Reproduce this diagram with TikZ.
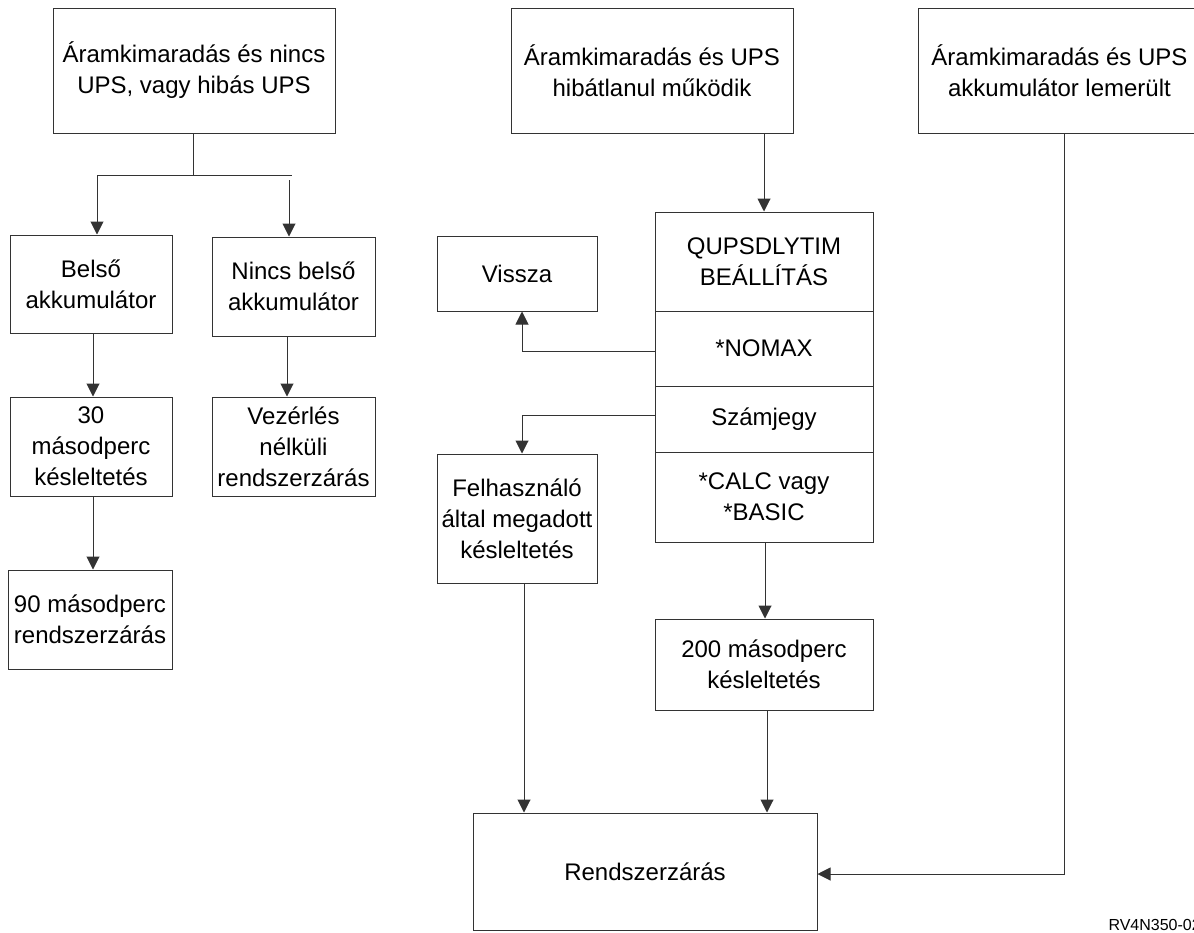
\documentclass[tikz,border=0pt]{standalone}
\usepackage{fontspec}
\setmainfont{Liberation Sans}
\usetikzlibrary{arrows.meta}
\begin{document}
\begin{tikzpicture}[x=1pt,y=-1pt,line width=1pt,draw=black!80,
	box/.style={draw, align=center, inner sep=0pt, font=\fontsize{24}{31}\selectfont},
	arr/.style={-{Triangle[width=13pt,length=13pt]}}]
	\useasboundingbox (0,0) rectangle (1194,932);
	% top causes
	\node (upsnone)  at ( 194,  70.5)	[box, minimum width=282, minimum height=125]	{Áramkimaradás és nincs\\UPS, vagy hibás UPS};
	\node (upsok)    at ( 652,  70.5)	[box, minimum width=282, minimum height=125]	{Áramkimaradás és UPS\\hibátlanul működik};
	\node (upsempty) at (1059.5, 70.5)	[box, minimum width=283, minimum height=125]	{Áramkimaradás és UPS\\akkumulátor lemerült};
	% left branch
	\node (belso)      at ( 91,   284)	[box, minimum width=162, minimum height=98]	{Belső\\akkumulátor};
	\node (nincsbelso) at (293.5, 286.5)	[box, minimum width=163, minimum height=99]	{Nincs belső\\akkumulátor};
	\node (sec30)      at ( 91,   446.5)	[box, minimum width=162, minimum height=99]	{30\\másodperc\\késleltetés};
	\node (vezerles)   at (293.5, 446.5)	[box, minimum width=163, minimum height=99]	{Vezérlés\\nélküli\\rendszerzárás};
	\node (sec90)      at ( 90,   619.5)	[box, minimum width=164, minimum height=99]	{90 másodperc\\rendszerzárás};
	% QUPSDLYTIM column
	\node (qups)     at (764, 261.5)	[box, minimum width=218, minimum height=99]	{QUPSDLYTIM\\BEÁLLÍTÁS};
	\node (nomax)    at (764, 348.5)	[box, minimum width=218, minimum height=75]	{*NOMAX};
	\node (szamjegy) at (764, 419)	[box, minimum width=218, minimum height=66]	{Számjegy};
	\node (calc)     at (764, 497)	[box, minimum width=218, minimum height=90]	{*CALC vagy\\*BASIC};
	\node (sec200)   at (764, 664.5)	[box, minimum width=218, minimum height=91]	{200 másodperc\\késleltetés};
	\node (vissza)   at (517, 273.5)	[box, minimum width=160, minimum height=75]	{Vissza};
	\node (felh)     at (517, 518.5)	[box, minimum width=160, minimum height=129]	{Felhasználó\\által megadott\\késleltetés};
	\node (rendszer) at (645, 871.5)	[box, minimum width=344, minimum height=117]	{Rendszerzárás};
	\node (ref) at (1108, 930)	[anchor=base west, inner sep=0pt, font=\fontsize{16}{16}\selectfont]	{RV4N350-02};
	% connectors
	\coordinate (fork) at (193, 175);
	\draw (upsnone.south -| fork) -- (fork);
	\draw (97, 175) coordinate (forkl) -- (292, 175) coordinate (forkr);
	\draw[arr] (forkl) -- (forkl |- belso.north);
	\draw[arr] (289, 180) coordinate (forkr2) -- (forkr2 |- nincsbelso.north);
	\draw[arr] (belso) ++(2,49) -- (sec30.north -| 93, 0);
	\draw[arr] (sec30) ++(2,49.5) -- (sec90.north -| 93, 0);
	\draw[arr] (nincsbelso) ++(-6.5,49.5) -- (vezerles.north -| 287, 0);
	\draw[arr] (upsok.south -| qups.north) -- (qups.north);
	\draw[arr] (nomax.west) ++(0,2.5) -| (vissza.south -| 522, 0);
	\draw[arr] (szamjegy.west) ++(0,-4) -| (felh.north -| 522, 0);
	\draw[arr] (calc.south) ++(1,0) -- (sec200.north -| 765, 0);
	\draw[arr] (felh.south) ++(7,0) -- (rendszer.north -| 524, 0);
	\draw[arr] (sec200.south) ++(3,0) -- (rendszer.north -| 767, 0);
	\draw[arr] (upsempty.south) ++(4.5,0) |- (rendszer.east |- 0, 874);
\end{tikzpicture}
\end{document}
